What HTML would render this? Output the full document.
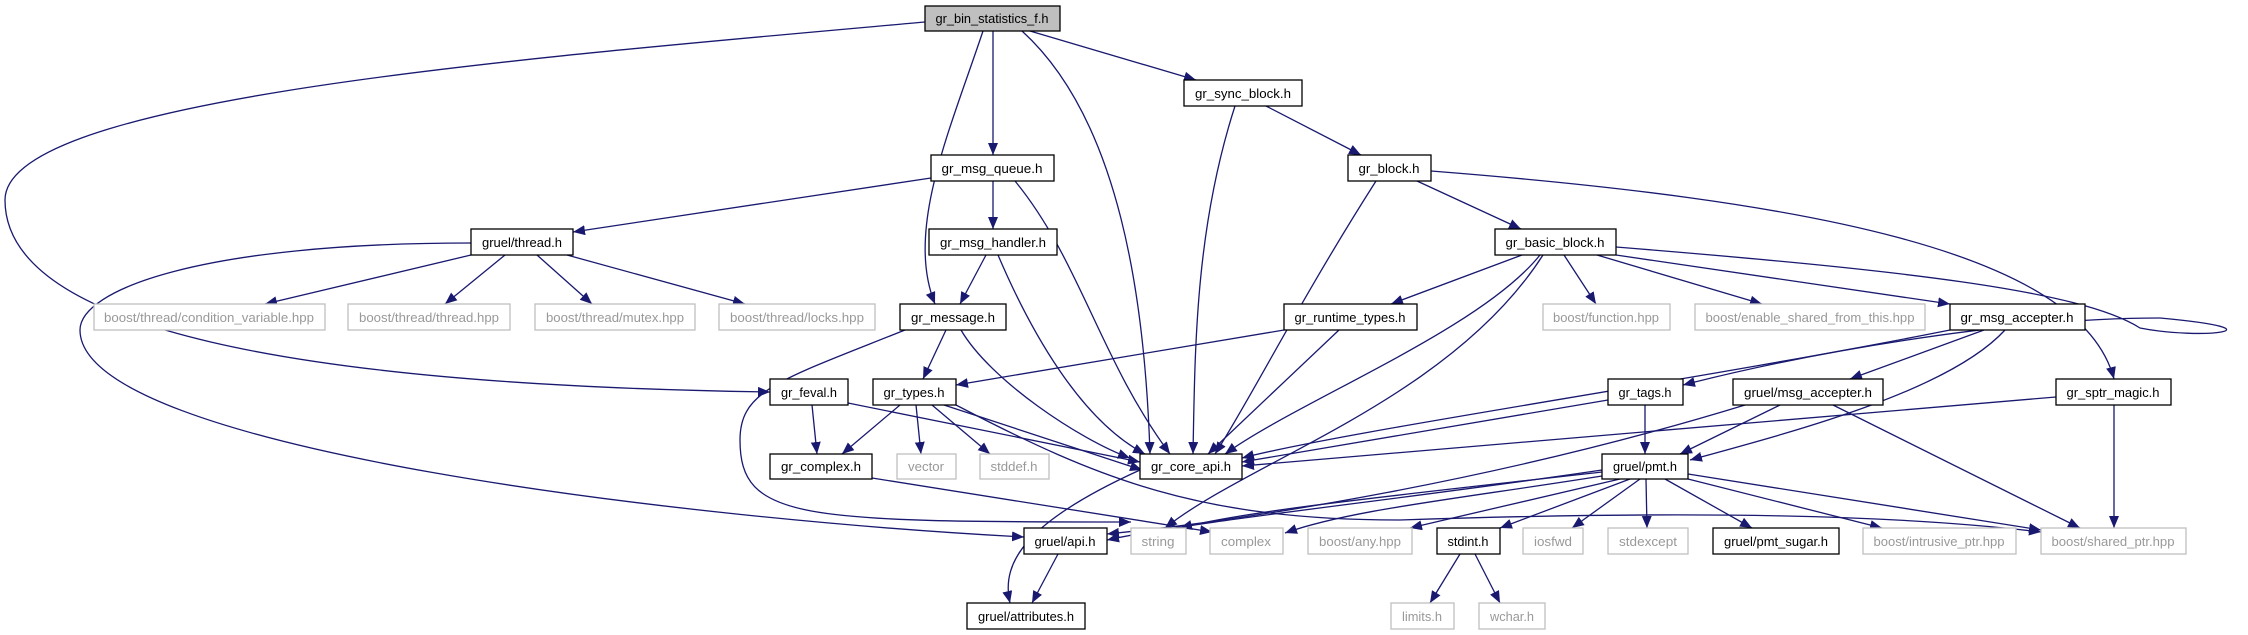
<!DOCTYPE html>
<html><head><meta charset="utf-8"><style>
html,body{margin:0;padding:0;background:#fff;}
svg{display:block;}
text{font-family:"Liberation Sans",sans-serif;font-size:13px;}
</style></head><body>
<svg width="2248" height="635" viewBox="0 0 2248 635" xmlns="http://www.w3.org/2000/svg">
<defs>
<marker id="a" markerUnits="userSpaceOnUse" markerWidth="14" markerHeight="12" refX="12" refY="5" orient="auto">
<path d="M0,0 L12,5 L0,10 Z" fill="#191970"/>
</marker>
</defs>
<g fill="none" stroke="#191970" stroke-width="1.3" marker-end="url(#a)">
<!-- root -->
<path d="M993,31 L993,155"/>
<path d="M983,31 C950,130 905,230 935,304"/>
<path d="M1022,31 C1120,120 1145,300 1150,454"/>
<path d="M1030,31 L1196,80"/>
<path d="M925,22 C500,60 5,100 5,200 C5,330 300,385 770,392"/>
<!-- sync block -->
<path d="M1266,106 L1361,155"/>
<path d="M1235,106 C1195,230 1195,350 1193,454"/>
<!-- gr_block -->
<path d="M1417,181 L1521,229"/>
<path d="M1376,181 C1300,300 1250,400 1215,454"/>
<path d="M1431,171 C1800,200 2080,250 2114,379"/>
<!-- basic block -->
<path d="M1522,255 L1391,304"/>
<path d="M1540,255 C1480,330 1300,400 1225,454"/>
<path d="M1543,255 C1450,400 1250,460 1165,528"/>
<path d="M1564,255 L1596,304"/>
<path d="M1597,255 L1762,304"/>
<path d="M1616,255 L1950,304"/>
<path d="M1616,247 C1900,270 2080,290 2140,328 C2200,340 2290,330 2160,318 C2000,318 1800,355 1683,385"/>
<!-- runtime types -->
<path d="M1284,330 L956,385"/>
<path d="M1339,330 L1208,454"/>
<!-- msg accepter -->
<path d="M1950,330 C1700,380 1350,430 1242,458"/>
<path d="M1984,330 L1850,379"/>
<path d="M2005,330 C1950,390 1800,430 1690,460"/>
<!-- msg queue -->
<path d="M931,178 L573,232"/>
<path d="M993,181 L993,229"/>
<path d="M1015,181 C1080,260 1100,360 1170,454"/>
<!-- thread -->
<path d="M471,255 L265,304"/>
<path d="M505,255 L445,304"/>
<path d="M537,255 L592,304"/>
<path d="M567,255 L745,304"/>
<path d="M471,243 C200,243 80,290 80,330 C80,450 700,520 1024,537"/>
<!-- msg handler -->
<path d="M986,255 L960,304"/>
<path d="M998,255 C1030,330 1080,420 1145,454"/>
<!-- message -->
<path d="M946,330 L923,379"/>
<path d="M961,330 C990,380 1080,440 1130,458"/>
<path d="M905,330 C780,380 740,390 740,440 C740,520 800,522 1131,522"/>
<!-- feval -->
<path d="M812,405 L817,454"/>
<path d="M848,403 L1140,462"/>
<!-- types -->
<path d="M900,405 L842,454"/>
<path d="M916,405 L921,454"/>
<path d="M932,405 L990,454"/>
<path d="M944,405 L1142,470"/>
<path d="M956,405 C1100,480 1200,520 1400,520 C1700,510 1900,515 2041,532"/>
<!-- complex, core api, api -->
<path d="M872,478 L1212,532"/>
<path d="M1140,470 C1030,520 1000,560 1010,603"/>
<path d="M1058,554 L1032,603"/>
<!-- tags -->
<path d="M1608,400 L1242,462"/>
<path d="M1645,405 L1645,454"/>
<!-- gruel msg accepter -->
<path d="M1745,405 C1500,480 1250,520 1107,534"/>
<path d="M1780,405 L1680,454"/>
<path d="M1833,405 L2080,528"/>
<!-- sptr magic -->
<path d="M2056,397 L1242,466"/>
<path d="M2114,405 L2114,528"/>
<!-- pmt -->
<path d="M1602,470 C1400,500 1200,520 1107,540"/>
<path d="M1602,472 C1400,495 1250,510 1180,528"/>
<path d="M1602,476 C1450,500 1350,510 1285,533"/>
<path d="M1620,479 L1410,528"/>
<path d="M1630,479 L1500,528"/>
<path d="M1640,479 L1572,528"/>
<path d="M1646,479 L1647,528"/>
<path d="M1665,479 L1752,528"/>
<path d="M1688,479 L1882,528"/>
<path d="M1688,474 L2041,530"/>
<!-- stdint -->
<path d="M1460,554 L1430,603"/>
<path d="M1475,554 L1500,603"/>
</g>
<g stroke-width="1.3">
<!-- documented nodes -->
<g fill="#fff" stroke="#000">
<rect x="925" y="6" width="135" height="25" fill="#bfbfbf"/>
<rect x="1184" y="80" width="118" height="26"/>
<rect x="931" y="155" width="123" height="26"/>
<rect x="1348" y="155" width="83" height="26"/>
<rect x="471" y="229" width="102" height="26"/>
<rect x="929" y="229" width="128" height="26"/>
<rect x="1495" y="229" width="121" height="26"/>
<rect x="900" y="304" width="106" height="26"/>
<rect x="1284" y="304" width="133" height="26"/>
<rect x="1950" y="304" width="135" height="26"/>
<rect x="770" y="379" width="78" height="26"/>
<rect x="873" y="379" width="83" height="26"/>
<rect x="1608" y="379" width="75" height="26"/>
<rect x="1733" y="379" width="150" height="26"/>
<rect x="2056" y="379" width="115" height="26"/>
<rect x="770" y="454" width="102" height="25"/>
<rect x="1140" y="454" width="102" height="25"/>
<rect x="1602" y="454" width="86" height="25"/>
<rect x="1024" y="528" width="83" height="26"/>
<rect x="1437" y="528" width="63" height="26"/>
<rect x="1713" y="528" width="126" height="26"/>
<rect x="967" y="603" width="118" height="26"/>
</g>
<g fill="#fff" stroke="#bfbfbf">
<rect x="94" y="304" width="231" height="26"/>
<rect x="348" y="304" width="162" height="26"/>
<rect x="535" y="304" width="160" height="26"/>
<rect x="719" y="304" width="156" height="26"/>
<rect x="1543" y="304" width="127" height="26"/>
<rect x="1695" y="304" width="230" height="26"/>
<rect x="897" y="454" width="59" height="25"/>
<rect x="980" y="454" width="69" height="25"/>
<rect x="1131" y="528" width="55" height="26"/>
<rect x="1210" y="528" width="73" height="26"/>
<rect x="1308" y="528" width="104" height="26"/>
<rect x="1523" y="528" width="60" height="26"/>
<rect x="1608" y="528" width="80" height="26"/>
<rect x="1863" y="528" width="153" height="26"/>
<rect x="2041" y="528" width="145" height="26"/>
<rect x="1391" y="603" width="63" height="26"/>
<rect x="1479" y="603" width="66" height="26"/>
</g>
</g>
<g fill="#000" text-anchor="middle">
<text x="992" y="23" textLength="113" lengthAdjust="spacingAndGlyphs">gr_bin_statistics_f.h</text>
<text x="1243" y="98" textLength="96" lengthAdjust="spacingAndGlyphs">gr_sync_block.h</text>
<text x="992" y="173" textLength="101" lengthAdjust="spacingAndGlyphs">gr_msg_queue.h</text>
<text x="1389" y="173" textLength="61" lengthAdjust="spacingAndGlyphs">gr_block.h</text>
<text x="522" y="247" textLength="80" lengthAdjust="spacingAndGlyphs">gruel/thread.h</text>
<text x="993" y="247" textLength="106" lengthAdjust="spacingAndGlyphs">gr_msg_handler.h</text>
<text x="1555" y="247" textLength="99" lengthAdjust="spacingAndGlyphs">gr_basic_block.h</text>
<text x="953" y="322" textLength="84" lengthAdjust="spacingAndGlyphs">gr_message.h</text>
<text x="1350" y="322" textLength="111" lengthAdjust="spacingAndGlyphs">gr_runtime_types.h</text>
<text x="2017" y="322" textLength="113" lengthAdjust="spacingAndGlyphs">gr_msg_accepter.h</text>
<text x="809" y="397" textLength="56" lengthAdjust="spacingAndGlyphs">gr_feval.h</text>
<text x="914" y="397" textLength="61" lengthAdjust="spacingAndGlyphs">gr_types.h</text>
<text x="1645" y="397" textLength="53" lengthAdjust="spacingAndGlyphs">gr_tags.h</text>
<text x="1808" y="397" textLength="128" lengthAdjust="spacingAndGlyphs">gruel/msg_accepter.h</text>
<text x="2113" y="397" textLength="93" lengthAdjust="spacingAndGlyphs">gr_sptr_magic.h</text>
<text x="821" y="471" textLength="80" lengthAdjust="spacingAndGlyphs">gr_complex.h</text>
<text x="1191" y="471" textLength="80" lengthAdjust="spacingAndGlyphs">gr_core_api.h</text>
<text x="1645" y="471" textLength="64" lengthAdjust="spacingAndGlyphs">gruel/pmt.h</text>
<text x="1065" y="546" textLength="61" lengthAdjust="spacingAndGlyphs">gruel/api.h</text>
<text x="1468" y="546" textLength="41" lengthAdjust="spacingAndGlyphs">stdint.h</text>
<text x="1776" y="546" textLength="104" lengthAdjust="spacingAndGlyphs">gruel/pmt_sugar.h</text>
<text x="1026" y="621" textLength="96" lengthAdjust="spacingAndGlyphs">gruel/attributes.h</text>
</g>
<g fill="#999" text-anchor="middle">
<text x="209" y="322" textLength="210" lengthAdjust="spacingAndGlyphs">boost/thread/condition_variable.hpp</text>
<text x="429" y="322" textLength="140" lengthAdjust="spacingAndGlyphs">boost/thread/thread.hpp</text>
<text x="615" y="322" textLength="138" lengthAdjust="spacingAndGlyphs">boost/thread/mutex.hpp</text>
<text x="797" y="322" textLength="134" lengthAdjust="spacingAndGlyphs">boost/thread/locks.hpp</text>
<text x="1606" y="322" textLength="106" lengthAdjust="spacingAndGlyphs">boost/function.hpp</text>
<text x="1810" y="322" textLength="209" lengthAdjust="spacingAndGlyphs">boost/enable_shared_from_this.hpp</text>
<text x="926" y="471" textLength="36" lengthAdjust="spacingAndGlyphs">vector</text>
<text x="1014" y="471" textLength="47" lengthAdjust="spacingAndGlyphs">stddef.h</text>
<text x="1158" y="546" textLength="33" lengthAdjust="spacingAndGlyphs">string</text>
<text x="1246" y="546" textLength="50" lengthAdjust="spacingAndGlyphs">complex</text>
<text x="1360" y="546" textLength="82" lengthAdjust="spacingAndGlyphs">boost/any.hpp</text>
<text x="1553" y="546" textLength="38" lengthAdjust="spacingAndGlyphs">iosfwd</text>
<text x="1648" y="546" textLength="58" lengthAdjust="spacingAndGlyphs">stdexcept</text>
<text x="1939" y="546" textLength="131" lengthAdjust="spacingAndGlyphs">boost/intrusive_ptr.hpp</text>
<text x="2113" y="546" textLength="123" lengthAdjust="spacingAndGlyphs">boost/shared_ptr.hpp</text>
<text x="1422" y="621" textLength="40" lengthAdjust="spacingAndGlyphs">limits.h</text>
<text x="1512" y="621" textLength="44" lengthAdjust="spacingAndGlyphs">wchar.h</text>
</g>
</svg>
</body></html>
